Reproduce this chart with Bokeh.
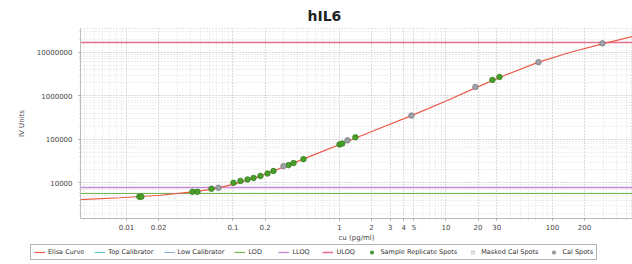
from bokeh.plotting import figure
from bokeh.models import FixedTicker, Legend, LegendItem, Range1d
from bokeh.embed import file_html
from bokeh.resources import INLINE

# Elisa fit curve
curve_x = [0.0037, 0.0088, 0.0209, 0.0417, 0.0628, 0.101, 0.156, 0.240, 0.370, 0.595,
           1.02, 2.18, 4.74, 9.9, 18.9, 36.2, 73.9, 147.6, 294.7, 564]
curve_y = [4110, 4560, 5200, 6240, 7110, 9250, 12650, 18740, 28500, 45600,
           76900, 164000, 351000, 750000, 1.52e6, 3.0e6, 5.93e6, 1.0e7, 1.56e7, 2.31e7]

# Sample replicate spots
sample_x = [0.0132, 0.0138, 0.0417, 0.0464, 0.0628, 0.101, 0.1175, 0.137, 0.156, 0.181,
            0.211, 0.240, 0.332, 0.370, 0.459, 1.0, 1.06, 1.41, 27.3, 31.8]
sample_y = [4810, 4810, 6240, 6240, 7310, 10000, 11100, 12000, 13000, 14400,
            16400, 18740, 25600, 28500, 35100, 76000, 80000, 111000, 2.31e6, 2.7e6]

# Calibrator spots
cal_x = [0.0731, 0.298, 1.19, 4.74, 18.9, 73.9, 294.7]
cal_y = [7690, 24300, 94800, 351000, 1.6e6, 5.93e6, 1.6e7]

# Masked calibrator spots (none visible)
masked_x = []
masked_y = []

# Horizontal reference levels
top_calibrator = 1.69e7
uloq = 1.69e7
low_calibrator = 7900
lloq = 7900
lod = 5800

x_ticks = [0.01, 0.02, 0.1, 0.2, 1, 2, 3, 4, 5, 10, 20, 30, 100, 200, 600]
x_tick_labels = ["0.01", "0.02", "0.1", "0.2", "1", "2", "3", "4", "5", "10", "20", "30", "100", "200", "600"]
y_ticks = [10000, 100000, 1000000, 10000000]
y_tick_labels = ["10000", "100000", "1000000", "10000000"]

series_labels = ["Elisa Curve", "Top Calibrator", "Low Calibrator", "LOD", "LLOQ", "ULOQ",
                 "Sample Replicate Spots", "Masked Cal Spots", "Cal Spots"]

x_minor = [m * 10.0 ** e for e in range(-3, 3) for m in range(1, 10)]
y_minor = [m * 10.0 ** e for e in range(3, 8) for m in range(1, 10)]

# styles
C_CURVE = dict(line_color="#ee5a48", line_width=1.2)
C_TOP = dict(line_color="#66c8d8", line_width=1)
C_LOW = dict(line_color="#88aadd", line_width=1)
C_LOD = dict(line_color="#70b850", line_width=1.2)
C_LLOQ = dict(line_color="#c48ad8", line_width=1.4)
C_ULOQ = dict(line_color="#e8708a", line_width=1.6)
C_SAMP = dict(marker="circle", size=5.5, fill_color="#4aa02a", line_color="#2f7a18", line_width=0.8)
C_MASK = dict(marker="square", size=4, fill_color="#e4e4e4", line_color="#d0d0d0")
C_CAL = dict(marker="circle", size=5.5, fill_color="#a0a0a8", line_color="#7a7a80", line_width=0.8)

p = figure(width=632, height=244, x_axis_type="log", y_axis_type="log",
           x_range=(0.0037, 564), y_range=(1520, 3.51e7),
           output_backend="svg", toolbar_location=None,
           min_border_left=80, min_border_right=0, min_border_top=28, min_border_bottom=24)

p.title.text = "hIL6"
p.title.align = "left"
p.title.offset = 227
p.title.text_font = "DejaVu Sans"
p.title.text_font_style = "bold"
p.title.text_font_size = "14px"
p.title.text_color = "#222222"
p.title.standoff = 10

p.outline_line_color = "#cccccc"
p.outline_line_dash = "1 2"

for g in (p.xgrid, p.ygrid):
    g.grid_line_color = "#c8c8c8"
    g.grid_line_dash = "1 2"
    g.minor_grid_line_color = "#dddddd"
    g.minor_grid_line_dash = "1 2"

p.xaxis.ticker = FixedTicker(ticks=x_ticks, minor_ticks=x_minor)
p.xaxis.major_label_overrides = {t: l for t, l in zip(x_ticks, x_tick_labels)}
p.yaxis.ticker = FixedTicker(ticks=y_ticks, minor_ticks=y_minor)
p.yaxis.major_label_overrides = {t: l for t, l in zip(y_ticks, y_tick_labels)}

for ax in (p.xaxis, p.yaxis):
    ax.axis_line_color = "#bbbbbb"
    ax.major_tick_line_color = "#999999"
    ax.minor_tick_line_color = "#bbbbbb"
    ax.major_tick_out = 2
    ax.major_tick_in = 0
    ax.minor_tick_out = 1
    ax.minor_tick_in = 0
    ax.major_label_text_font = "DejaVu Sans"
    ax.major_label_text_font_size = "7px"
    ax.major_label_text_color = "#444444"
    ax.axis_label_text_font = "DejaVu Sans"
    ax.axis_label_text_font_size = "7px"
    ax.axis_label_text_font_style = "normal"
    ax.axis_label_text_color = "#444444"

p.xaxis.axis_label = "cu (pg/ml)"
p.xaxis.major_label_standoff = 3
p.xaxis.axis_label_standoff = 1
p.yaxis.axis_label = "IV Units"
p.yaxis.major_label_standoff = 6
p.yaxis.axis_label_standoff = 8

p.hspan(y=[top_calibrator], **C_TOP)
p.hspan(y=[low_calibrator], **C_LOW)
p.hspan(y=[lod], **C_LOD)
p.hspan(y=[lloq], **C_LLOQ)
p.hspan(y=[uloq], **C_ULOQ)
p.line(curve_x, curve_y, **C_CURVE)
p.scatter(sample_x, sample_y, **C_SAMP)
p.scatter(masked_x, masked_y, **C_MASK)
p.scatter(cal_x, cal_y, **C_CAL)

# legend strip: a second root holding legend keys for the same series
# (its ranges are far from the data, so only the legend keys show)
lg = figure(width=632, height=20, output_backend="svg", toolbar_location=None,
            x_range=Range1d(-2e9, -1e9), y_range=Range1d(-2e9, -1e9),
            x_axis_location=None, y_axis_location=None,
            min_border_left=0, min_border_right=0, min_border_top=0, min_border_bottom=0)
lg.outline_line_color = None
lg.xgrid.visible = False
lg.ygrid.visible = False
lg_r = [
    lg.line(curve_x, curve_y, **C_CURVE),
    lg.hspan(y=[top_calibrator], **C_TOP),
    lg.hspan(y=[low_calibrator], **C_LOW),
    lg.hspan(y=[lod], **C_LOD),
    lg.hspan(y=[lloq], **C_LLOQ),
    lg.hspan(y=[uloq], **C_ULOQ),
    lg.scatter(sample_x, sample_y, **C_SAMP),
    lg.scatter(cal_x, cal_y, **C_MASK),
    lg.scatter(cal_x, cal_y, **C_CAL),
]
legend = Legend(items=[LegendItem(label=l, renderers=[r]) for l, r in zip(series_labels, lg_r)],
                orientation="horizontal", location=(30, 4))
legend.label_text_font = "DejaVu Sans"
legend.label_text_font_size = "6.5px"
legend.label_text_color = "#333333"
legend.label_height = 8
legend.label_standoff = 3
legend.glyph_height = 8
legend.glyph_width = 11
legend.spacing = 10
legend.padding = 3
legend.margin = 0
legend.border_line_color = "#666666"
legend.border_line_width = 1
legend.background_fill_color = "white"
lg.add_layout(legend, "center")

open("out.html", "w").write(file_html([p, lg], INLINE))
